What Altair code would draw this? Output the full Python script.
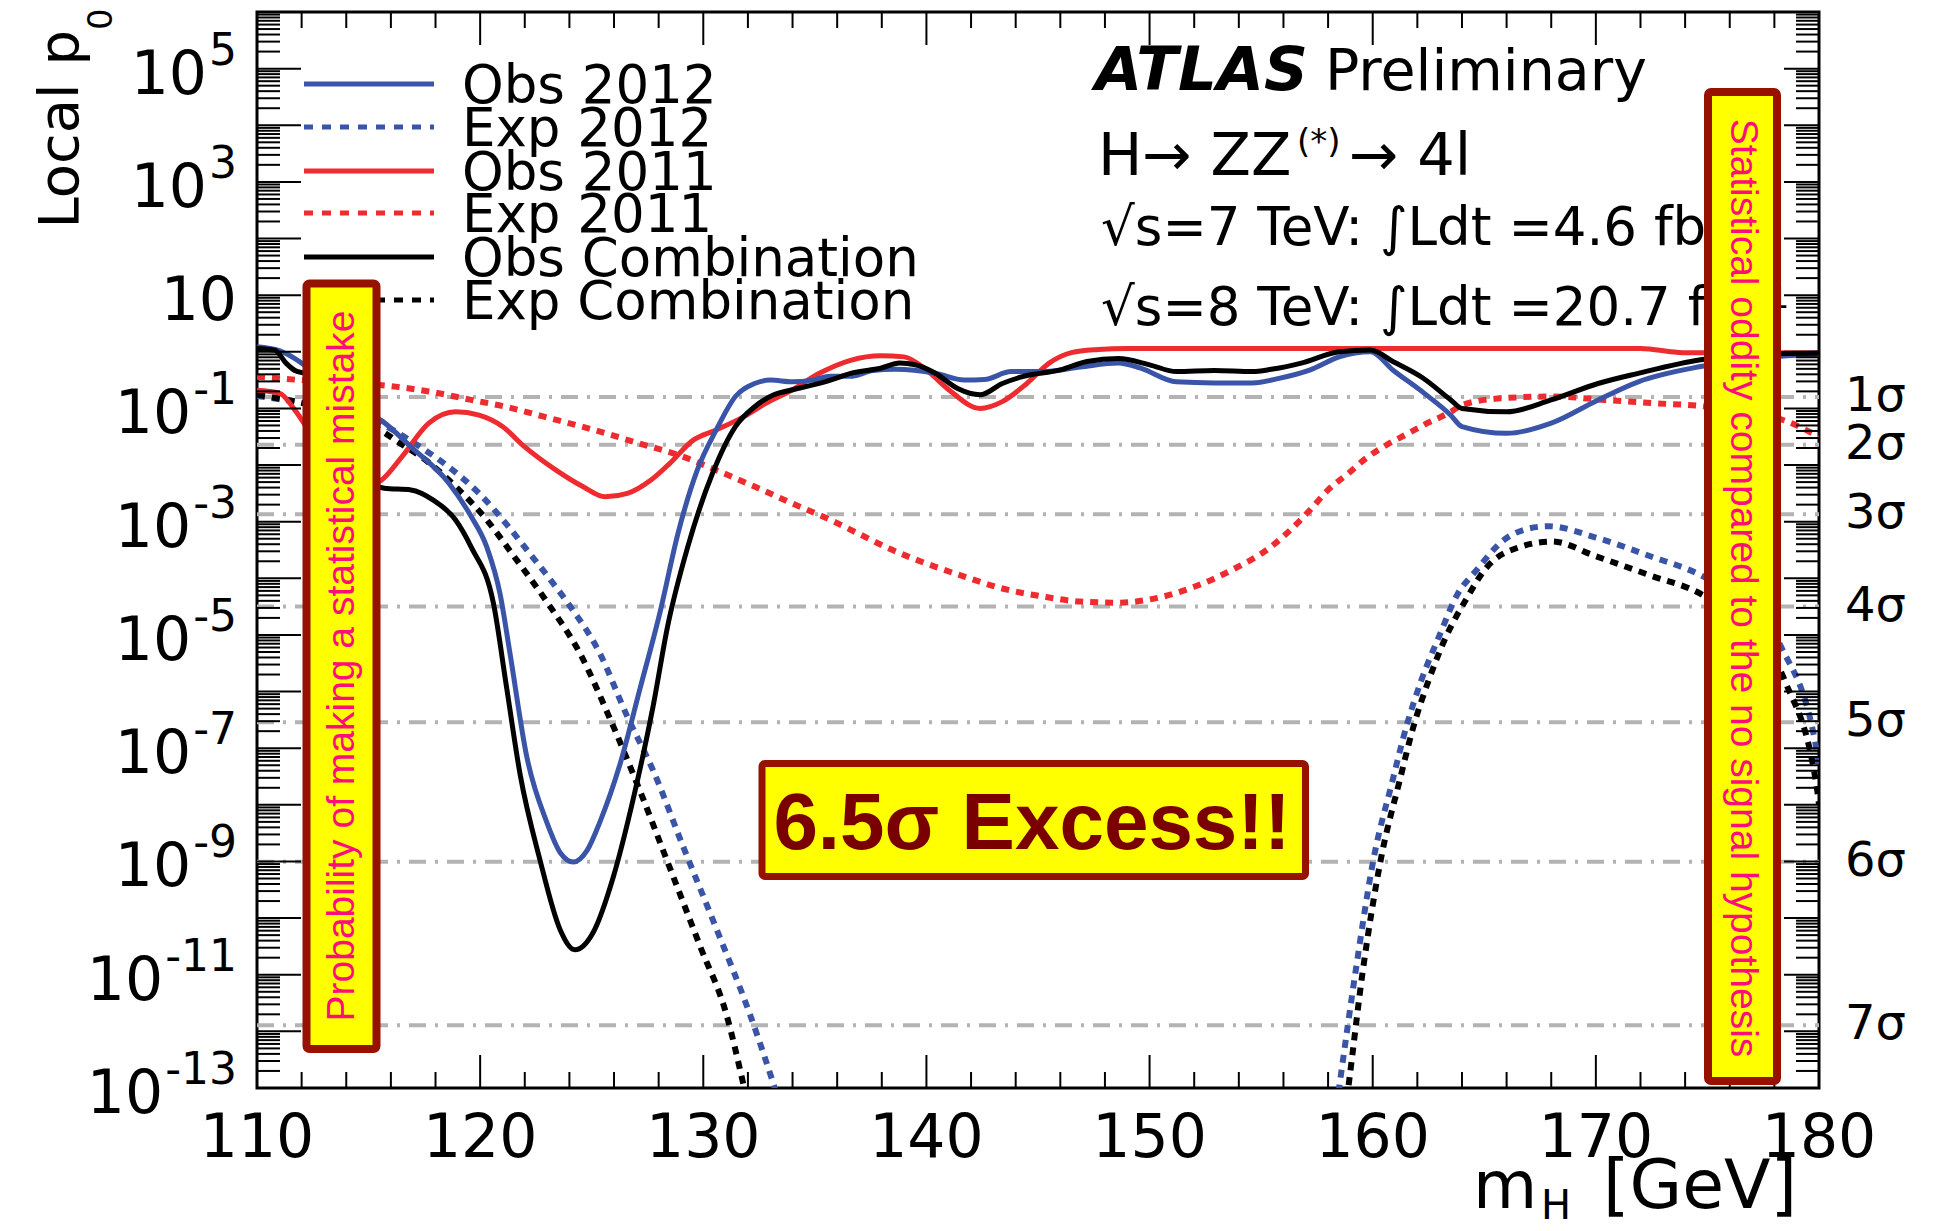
import altair as alt
import pandas as pd

# ---------------------------------------------------------------- data
# each series: (m_H [GeV], log10 of local p0)
OBS_2012 = [(110.0, 0.09), (111.0, 0.02), (111.7, -0.12), (112.5, -0.35), (113.5, -0.7), (114.5, -0.98),
            (115.6, -1.22), (116.9, -1.68), (118.6, -2.32), (119.6, -2.91), (120.3, -3.45), (120.9, -4.29),
            (121.34, -5.33), (122.09, -7.15), (122.98, -8.3), (123.6, -8.85), (124.18, -9.01), (124.8, -8.8),
            (125.37, -8.3), (126.27, -7.28), (127.17, -5.94), (128.06, -4.6), (128.87, -3.2), (129.73, -2.09),
            (130.58, -1.38), (131.44, -0.79), (132.3, -0.56), (133.0, -0.5), (134.0, -0.53), (134.9, -0.5),
            (135.7, -0.43), (136.7, -0.43), (137.6, -0.33), (138.6, -0.31), (140.4, -0.38), (141.7, -0.5),
            (142.6, -0.49), (143.8, -0.35), (145.2, -0.35), (146.9, -0.27), (148.6, -0.2), (149.6, -0.29),
            (151.2, -0.53), (152.9, -0.55), (154.6, -0.55), (155.8, -0.47), (157.2, -0.32), (158.5, -0.09),
            (159.9, 0.0), (160.9, -0.32), (162.3, -0.73), (163.5, -1.12), (164.0, -1.32), (166.0, -1.44),
            (168.0, -1.26), (170.1, -0.85), (171.9, -0.53), (174.7, -0.26), (177.0, -0.12), (180.0, -0.05)]

OBS_COMB = [(110.0, 0.06), (110.8, 0.03), (111.3, -0.2), (111.7, -0.33), (112.3, -0.4), (113.2, -0.8),
            (114.2, -1.6), (115.0, -2.25), (115.7, -2.41), (116.9, -2.44), (117.9, -2.62), (118.9, -2.97),
            (119.6, -3.45), (120.6, -4.45), (121.19, -5.94), (121.79, -7.46), (122.68, -8.97), (123.58, -10.2),
            (124.25, -10.56), (125.07, -10.25), (125.97, -9.27), (126.87, -7.88), (127.76, -6.24), (128.4, -4.85),
            (129.3, -3.45), (130.41, -2.15), (131.44, -1.32), (132.3, -0.97), (133.16, -0.76), (134.0, -0.67),
            (134.87, -0.59), (135.7, -0.5), (136.6, -0.38), (137.95, -0.29), (138.8, -0.2), (139.5, -0.23),
            (140.4, -0.38), (141.4, -0.65), (142.4, -0.76), (143.4, -0.56), (144.3, -0.44), (146.0, -0.32),
            (147.2, -0.17), (148.6, -0.12), (150.0, -0.23), (151.2, -0.35), (152.9, -0.33), (154.6, -0.35),
            (155.45, -0.31), (156.8, -0.2), (158.5, 0.0), (159.9, 0.03), (160.9, -0.17), (162.2, -0.45),
            (163.5, -0.85), (164.0, -1.0), (166.0, -1.06), (168.0, -0.85), (170.1, -0.56), (171.9, -0.38),
            (174.7, -0.14), (177.0, -0.05), (180.0, -0.02)]

OBS_2011 = [(110.0, -0.68), (111.0, -0.73), (111.7, -1.03), (112.5, -1.5), (113.5, -2.0), (114.7, -2.4),
            (115.6, -2.26), (116.5, -1.85), (117.7, -1.26), (118.9, -1.06), (119.95, -1.12), (121.0, -1.32),
            (122.0, -1.68), (123.4, -2.09), (124.6, -2.38), (125.6, -2.56), (126.6, -2.5), (127.67, -2.26),
            (128.5, -1.97), (129.55, -1.56), (130.58, -1.38), (131.8, -1.15), (132.8, -0.91), (134.0, -0.67),
            (135.2, -0.38), (136.6, -0.15), (137.95, -0.07), (139.0, -0.09), (140.0, -0.32), (141.0, -0.67),
            (142.4, -1.0), (143.4, -0.88), (144.5, -0.56), (145.5, -0.2), (146.5, -0.015), (147.7, 0.04),
            (149.0, 0.06), (172.0, 0.06), (173.9, -0.015), (180.0, -0.02)]

EXP_2011 = [(110.0, -0.44), (112.0, -0.5), (114.0, -0.55), (115.6, -0.59), (117.7, -0.7), (119.6, -0.85),
            (121.15, -0.97), (122.9, -1.15), (125.1, -1.38), (127.15, -1.62), (128.87, -1.82), (130.58, -2.09),
            (132.3, -2.38), (134.0, -2.68), (135.7, -2.97), (136.9, -3.2), (138.3, -3.47), (140.0, -3.74),
            (141.7, -3.97), (143.4, -4.18), (145.2, -4.32), (146.9, -4.41), (148.6, -4.43), (150.3, -4.35),
            (152.0, -4.15), (153.7, -3.85), (155.45, -3.44), (156.3, -3.15), (157.2, -2.79), (158.0, -2.44),
            (158.9, -2.15), (159.7, -1.88), (160.6, -1.65), (161.45, -1.47), (162.3, -1.29), (163.5, -1.06),
            (164.0, -0.94), (165.8, -0.82), (168.1, -0.79), (170.4, -0.85), (172.7, -0.91), (174.8, -0.96),
            (176.5, -1.05), (178.36, -1.2), (180.0, -1.5)]

EXP_2012 = [(110.0, -0.78), (112.0, -0.9), (114.0, -1.05), (115.6, -1.28), (117.2, -1.65), (118.58, -2.03),
            (119.95, -2.5), (121.15, -3.03), (122.2, -3.55), (123.0, -3.95), (123.88, -4.41), (125.37, -5.33),
            (126.57, -6.42), (127.76, -7.4), (129.1, -8.74), (130.6, -10.2), (132.1, -11.71), (133.14, -12.92),
            (134.0, -14.0), (158.0, -14.4), (158.5, -12.98), (159.24, -10.92), (160.05, -8.93), (160.87, -7.6),
            (161.52, -6.6), (162.17, -5.81), (162.99, -5.01), (163.8, -4.28), (164.6, -3.88), (165.92, -3.31),
            (166.9, -3.13), (167.88, -3.08), (170.0, -3.28), (172.44, -3.61), (174.72, -3.95), (176.5, -4.4),
            (178.3, -5.21), (179.94, -7.14), (180.0, -7.3)]

EXP_COMB = [(110.0, -0.76), (112.0, -0.9), (114.0, -1.1), (115.6, -1.4), (116.2, -1.56), (117.55, -1.91),
            (118.9, -2.38), (120.3, -2.97), (121.4, -3.55), (122.98, -4.41), (124.48, -5.33), (125.82, -6.48),
            (127.17, -7.76), (128.37, -8.98), (129.86, -10.5), (131.05, -11.72), (131.8, -12.94), (132.5, -14.2),
            (158.4, -14.5), (158.91, -12.98), (159.56, -10.92), (160.38, -8.93), (161.19, -7.6), (161.84, -6.6),
            (162.5, -5.81), (163.31, -5.01), (164.13, -4.41), (165.1, -3.81), (166.57, -3.45), (168.04, -3.35),
            (170.0, -3.61), (172.44, -3.95), (174.72, -4.28), (176.5, -4.8), (178.47, -5.81), (179.94, -7.8),
            (180.0, -8.0)]

SIGMA_LABELS = ["1σ", "2σ", "3σ", "4σ", "5σ", "6σ", "7σ"]
SIGMA_P = [0.158655, 0.0227501, 0.0013499, 3.16712e-5, 2.86652e-7, 9.86588e-10, 1.27981e-12]

X_TICK_VALUES = [110, 120, 130, 140, 150, 160, 170, 180]
X_TICK_LABELS = ["110", "120", "130", "140", "150", "160", "170", "180"]
X_MINOR_VALUES = [v for v in range(110, 181, 2) if v % 10]

Y_LABEL_VALUES = [1e5, 1e3, 1e1, 1e-1, 1e-3, 1e-5, 1e-7, 1e-9, 1e-11, 1e-13]
Y_LABEL_BASE = ["10", "10", "10", "10", "10", "10", "10", "10", "10", "10"]
Y_LABEL_EXP = ["5", "3", "", "-1", "-3", "-5", "-7", "-9", "-11", "-13"]
Y_DECADES = [10.0 ** e for e in range(-13, 7)]
Y_MINORS = [k * 10.0 ** e for e in range(-13, 6) for k in range(2, 10)]

LEGEND_LABELS = ["Obs 2012", "Exp 2012", "Obs 2011", "Exp 2011", "Obs Combination", "Exp Combination"]

# ---------------------------------------------------------------- style
W, H = 1562, 1076
BLUE, RED, BLACK = "#3a55a8", "#ee2b2f", "#000000"
GRAY = "#b3b3b3"
YELLOW, BORDER = "#ffff00", "#961100"
PINK = "#ff0d7a"
FONT = "DejaVu Sans"
DOT = [8, 7]
EXP_SIZE = 44

X_SCALE = alt.Scale(domain=[110, 180], nice=False, zero=False)
Y_SCALE = alt.Scale(type="log", domain=[1e-13, 1e6], nice=False)
ONE = pd.DataFrame({"k": [0]})


def xenc():
    return alt.X("m:Q", scale=X_SCALE, axis=None)


def yenc():
    return alt.Y("p:Q", scale=Y_SCALE, axis=None)


def series(pairs):
    return pd.DataFrame({"m": [a for a, _ in pairs], "p": [10.0 ** b for _, b in pairs]})


def curve(pairs, color, dash=None, width=5):
    kw = dict(color=color, strokeWidth=width, clip=True, interpolate="monotone")
    if dash:
        kw["strokeDash"] = dash
        kw["strokeCap"] = "butt"
    return alt.Chart(series(pairs)).mark_line(**kw).encode(x=xenc(), y=yenc())


def label(text, x, y, size, color="black", align="left", baseline="alphabetic",
          angle=0, weight="normal", style="normal", font=FONT):
    kw = dict(text=text, font=font, fontSize=size, color=color, align=align,
              baseline=baseline, fontWeight=weight, fontStyle=style)
    if angle:
        kw["angle"] = angle
    return alt.Chart(ONE).mark_text(**kw).encode(x=alt.value(x), y=alt.value(y))


def box(x1, x2, y1, y2, sw):
    return alt.Chart(ONE).mark_rect(fill=YELLOW, stroke=BORDER, strokeWidth=sw, cornerRadius=3).encode(
        x=alt.value(x1), x2=alt.value(x2), y=alt.value(y1), y2=alt.value(y2))


layers = []

# sigma reference lines
layers.append(alt.Chart(pd.DataFrame({"p": SIGMA_P})).mark_rule(
    color=GRAY, strokeWidth=4, strokeDash=[17, 9, 3, 9]).encode(
    y=yenc(), x=alt.value(0), x2=alt.value(W)))

# curves
layers += [
    curve(EXP_2011, RED, DOT, 6),
    curve(EXP_2012, BLUE, DOT, 6),
    curve(EXP_COMB, BLACK, DOT, 6),
    curve(OBS_2011, RED, None, 5),
    curve(OBS_2012, BLUE, None, 5),
    curve(OBS_COMB, BLACK, None, 5),
]

# legend
leg_rows = [72, 115, 159, 201, 245, 288]
leg_colors = [BLUE, BLUE, RED, RED, BLACK, BLACK]
leg_dash = [None, [9, 9], None, [9, 9], None, [9, 9]]
for lab, yy, col, dsh in zip(LEGEND_LABELS, leg_rows, leg_colors, leg_dash):
    kw = dict(color=col, strokeWidth=5)
    if dsh:
        kw["strokeDash"] = dsh
        kw["strokeCap"] = "butt"
    layers.append(alt.Chart(ONE).mark_rule(**kw).encode(
        x=alt.value(47), x2=alt.value(177), y=alt.value(yy)))
    layers.append(label(lab, 205, yy + 19, 53))

# ATLAS block
layers += [
    label("ATLAS", 838, 78, 61, weight="bold", style="italic"),
    label("Preliminary", 1068, 78, 57),
    label("H→ ZZ", 841, 163, 59),
    label("(*)", 1040, 141, 34),
    label("→ 4l", 1092, 163, 59),
    label("√s=7 TeV: ∫Ldt =4.6 fb⁻¹", 844, 233, 53),
    label("√s=8 TeV: ∫Ldt =20.7 fb⁻¹", 844, 313, 53),
]

# ticks (inward, ROOT style)
dec = pd.DataFrame({"p": Y_DECADES})
mnr = pd.DataFrame({"p": Y_MINORS})
xmj = pd.DataFrame({"m": X_TICK_VALUES})
xmn = pd.DataFrame({"m": X_MINOR_VALUES})
tk = dict(color="black", strokeWidth=2)
layers += [
    alt.Chart(dec).mark_rule(**tk).encode(y=yenc(), x=alt.value(0), x2=alt.value(44)),
    alt.Chart(mnr).mark_rule(**tk).encode(y=yenc(), x=alt.value(0), x2=alt.value(23)),
    alt.Chart(dec).mark_rule(**tk).encode(y=yenc(), x=alt.value(W - 35), x2=alt.value(W)),
    alt.Chart(mnr).mark_rule(**tk).encode(y=yenc(), x=alt.value(W - 23), x2=alt.value(W)),
    alt.Chart(xmj).mark_rule(**tk).encode(x=xenc(), y=alt.value(H - 33), y2=alt.value(H)),
    alt.Chart(xmn).mark_rule(**tk).encode(x=xenc(), y=alt.value(H - 16), y2=alt.value(H)),
    alt.Chart(xmj).mark_rule(**tk).encode(x=xenc(), y=alt.value(0), y2=alt.value(33)),
    alt.Chart(xmn).mark_rule(**tk).encode(x=xenc(), y=alt.value(0), y2=alt.value(16)),
]

# annotation boxes
layers += [
    box(49.5, 119.5, 271.5, 1037, 8),
    label("Probability of making a statistical mistake", 84.5, 654, 39, color=PINK,
          align="center", baseline="middle", angle=270, font="Liberation Sans"),
    box(1451, 1520, 80, 1069, 8),
    label("Statistical oddity compared to the no signal hypothesis", 1485.5, 576, 39, color=PINK,
          align="center", baseline="middle", angle=90, font="Liberation Sans"),
    box(505, 1048.5, 751.5, 864.5, 7),
    label("6.5σ Excess!!", 775, 837, 80, color="#7a0000", align="center", weight="bold",
          font="Liberation Sans"),
]

# x tick labels
layers.append(alt.Chart(pd.DataFrame({"m": X_TICK_VALUES, "t": X_TICK_LABELS})).mark_text(
    font=FONT, fontSize=60, align="center", baseline="alphabetic").encode(
    x=xenc(), y=alt.value(1145), text="t:N"))

# y tick labels: base "10" plus a raised exponent
for v, b, e in zip(Y_LABEL_VALUES, Y_LABEL_BASE, Y_LABEL_EXP):
    ew = sum(0.361 if c == "-" else 0.636 for c in e) * EXP_SIZE
    gap = 2 if e else 0
    row = pd.DataFrame({"p": [v]})
    layers.append(alt.Chart(row).mark_text(
        text=b, font=FONT, fontSize=60, align="right", baseline="alphabetic", dy=25).encode(
        y=yenc(), x=alt.value(-20 - ew - gap)))
    if e:
        layers.append(alt.Chart(row).mark_text(
            text=e, font=FONT, fontSize=EXP_SIZE, align="right", baseline="alphabetic", dy=-4).encode(
            y=yenc(), x=alt.value(-20)))

# sigma labels
layers.append(alt.Chart(pd.DataFrame({"p": SIGMA_P, "t": SIGMA_LABELS})).mark_text(
    font=FONT, fontSize=48, align="left", baseline="middle").encode(
    y=yenc(), x=alt.value(1588), text="t:N"))

# axis titles
layers += [
    label("Local p", -179, 18, 56, align="right", angle=270),
    label("0", -145, 18, 34, align="left", angle=270),
    label("m", 1216, 1196, 66),
    label("H", 1284, 1207, 40),
    label("[GeV]", 1346, 1196, 68),
]

chart = alt.layer(*layers).properties(
    width=W, height=H,
    autosize=alt.AutoSizeParams(type="none"),
    padding={"left": 257, "top": 12, "right": 116, "bottom": 143},
    background="white",
).configure_view(stroke="black", strokeWidth=3)

chart.save("out.html", embed_options={"renderer": "svg", "actions": False})
